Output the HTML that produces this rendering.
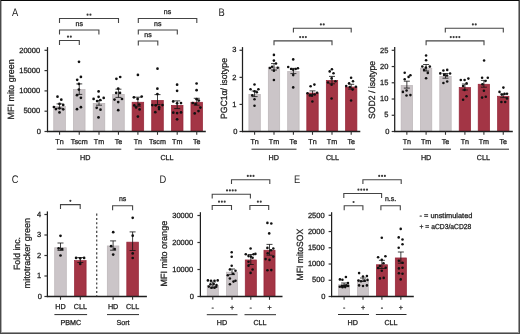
<!DOCTYPE html>
<html><head><meta charset="utf-8"><style>
html,body{margin:0;padding:0;background:#fff;}
body{width:520px;height:334px;overflow:hidden;position:relative;}
svg{position:absolute;left:0;top:0;display:block;will-change:transform;}
text{font-family:"Liberation Sans", sans-serif;text-rendering:geometricPrecision;}
</style></head><body>
<svg width="520" height="334" viewBox="0 0 520 334">
<rect x="0" y="0" width="520" height="334" fill="#fff"/>
<text transform="translate(15 15.9) scale(0.85 1)" x="0" y="0" font-size="11" text-anchor="middle" fill="#1a1a1a">A</text>
<line x1="47.5" y1="47.1" x2="47.5" y2="132.1" stroke="#1e1e1e" stroke-width="1.25" />
<line x1="44.5" y1="131.5" x2="47.5" y2="131.5" stroke="#333" stroke-width="1.2" />
<text x="41.0" y="133.7" font-size="7.5" text-anchor="end" fill="#1e1e1e" stroke="#1e1e1e" stroke-width="0.28" >0</text>
<line x1="44.5" y1="111.2" x2="47.5" y2="111.2" stroke="#333" stroke-width="1.2" />
<text x="40.1" y="113.4" font-size="7.5" text-anchor="end" fill="#1e1e1e" stroke="#1e1e1e" stroke-width="0.28" >5000</text>
<line x1="44.5" y1="90.9" x2="47.5" y2="90.9" stroke="#333" stroke-width="1.2" />
<text x="40.1" y="93.10000000000001" font-size="7.5" text-anchor="end" fill="#1e1e1e" stroke="#1e1e1e" stroke-width="0.28" >10000</text>
<line x1="44.5" y1="70.6" x2="47.5" y2="70.6" stroke="#333" stroke-width="1.2" />
<text x="40.1" y="72.8" font-size="7.5" text-anchor="end" fill="#1e1e1e" stroke="#1e1e1e" stroke-width="0.28" >15000</text>
<line x1="44.5" y1="50.3" x2="47.5" y2="50.3" stroke="#333" stroke-width="1.2" />
<text x="40.1" y="52.5" font-size="7.5" text-anchor="end" fill="#1e1e1e" stroke="#1e1e1e" stroke-width="0.28" >20000</text>
<rect x="53.75" y="106.45" width="11.60" height="25.05" fill="#cbc5c8" stroke="#bbb4b7" stroke-width="0.7"/>
<circle cx="57.5" cy="96.7" r="1.35" fill="#111"/>
<circle cx="61.3" cy="99.7" r="1.35" fill="#111"/>
<circle cx="59.5" cy="103.9" r="1.35" fill="#111"/>
<circle cx="63.2" cy="104.9" r="1.35" fill="#111"/>
<circle cx="53.9" cy="107" r="1.35" fill="#111"/>
<circle cx="55.9" cy="109.1" r="1.35" fill="#111"/>
<circle cx="59.5" cy="108.3" r="1.35" fill="#111"/>
<circle cx="63.2" cy="109.3" r="1.35" fill="#111"/>
<circle cx="59.5" cy="112.4" r="1.35" fill="#111"/>
<path d="M59.55 103.9V108.2M56.55 103.9H62.55M56.55 108.2H62.55" stroke="#111" stroke-width="0.8" fill="none"/>
<rect x="73.45" y="89.55" width="11.60" height="41.95" fill="#cbc5c8" stroke="#bbb4b7" stroke-width="0.7"/>
<circle cx="79" cy="61.8" r="1.35" fill="#111"/>
<circle cx="80.9" cy="76.9" r="1.35" fill="#111"/>
<circle cx="77.2" cy="79.8" r="1.35" fill="#111"/>
<circle cx="78.9" cy="83.9" r="1.35" fill="#111"/>
<circle cx="78.9" cy="89.6" r="1.35" fill="#111"/>
<circle cx="77" cy="95.2" r="1.35" fill="#111"/>
<circle cx="80.9" cy="97.8" r="1.35" fill="#111"/>
<circle cx="80.9" cy="107.2" r="1.35" fill="#111"/>
<circle cx="77" cy="109.2" r="1.35" fill="#111"/>
<path d="M79.25 83.9V94.4M76.25 83.9H82.25M76.25 94.4H82.25" stroke="#111" stroke-width="0.8" fill="none"/>
<rect x="93.20" y="103.35" width="11.60" height="28.15" fill="#cbc5c8" stroke="#bbb4b7" stroke-width="0.7"/>
<circle cx="98.6" cy="91.4" r="1.35" fill="#111"/>
<circle cx="98.6" cy="96.8" r="1.35" fill="#111"/>
<circle cx="103.7" cy="97.9" r="1.35" fill="#111"/>
<circle cx="93.6" cy="98.9" r="1.35" fill="#111"/>
<circle cx="100.3" cy="100" r="1.35" fill="#111"/>
<circle cx="97.1" cy="101.1" r="1.35" fill="#111"/>
<circle cx="96.7" cy="107.8" r="1.35" fill="#111"/>
<circle cx="100.5" cy="109.7" r="1.35" fill="#111"/>
<circle cx="98.5" cy="117.4" r="1.35" fill="#111"/>
<path d="M99.0 100.6V105.2M96.0 100.6H102.0M96.0 105.2H102.0" stroke="#111" stroke-width="0.8" fill="none"/>
<rect x="112.65" y="94.35" width="11.60" height="37.15" fill="#cbc5c8" stroke="#bbb4b7" stroke-width="0.7"/>
<circle cx="120.2" cy="77" r="1.35" fill="#111"/>
<circle cx="116.4" cy="78.8" r="1.35" fill="#111"/>
<circle cx="118.2" cy="88.6" r="1.35" fill="#111"/>
<circle cx="116.2" cy="92.9" r="1.35" fill="#111"/>
<circle cx="120" cy="92.9" r="1.35" fill="#111"/>
<circle cx="114.5" cy="99.6" r="1.35" fill="#111"/>
<circle cx="122" cy="99" r="1.35" fill="#111"/>
<circle cx="118.2" cy="102.1" r="1.35" fill="#111"/>
<circle cx="118.2" cy="110.2" r="1.35" fill="#111"/>
<path d="M118.45 89.2V97.4M115.45 89.2H121.45M115.45 97.4H121.45" stroke="#111" stroke-width="0.8" fill="none"/>
<rect x="132.10" y="102.25" width="11.60" height="29.25" fill="#a33545" stroke="#942437" stroke-width="0.7"/>
<circle cx="137.9" cy="74.9" r="1.35" fill="#111"/>
<circle cx="133.9" cy="97.3" r="1.35" fill="#111"/>
<circle cx="141.7" cy="96.6" r="1.35" fill="#111"/>
<circle cx="137.6" cy="99" r="1.35" fill="#111"/>
<circle cx="139.3" cy="104.5" r="1.35" fill="#111"/>
<circle cx="134.3" cy="105.4" r="1.35" fill="#111"/>
<circle cx="136.1" cy="107.4" r="1.35" fill="#111"/>
<circle cx="139.6" cy="109.4" r="1.35" fill="#111"/>
<circle cx="137.9" cy="116.6" r="1.35" fill="#111"/>
<path d="M137.9 97.2V106.2M134.9 97.2H140.9M134.9 106.2H140.9" stroke="#111" stroke-width="0.8" fill="none"/>
<rect x="151.70" y="100.35" width="11.60" height="31.15" fill="#a33545" stroke="#942437" stroke-width="0.7"/>
<circle cx="157.5" cy="68.7" r="1.35" fill="#111"/>
<circle cx="157.4" cy="88.7" r="1.35" fill="#111"/>
<circle cx="157.4" cy="94.1" r="1.35" fill="#111"/>
<circle cx="152.3" cy="105.1" r="1.35" fill="#111"/>
<circle cx="155.7" cy="105.3" r="1.35" fill="#111"/>
<circle cx="162.5" cy="105.1" r="1.35" fill="#111"/>
<circle cx="159.1" cy="107.2" r="1.35" fill="#111"/>
<circle cx="159.1" cy="109.1" r="1.35" fill="#111"/>
<circle cx="155.3" cy="112.2" r="1.35" fill="#111"/>
<path d="M157.5 94.6V104.6M154.5 94.6H160.5M154.5 104.6H160.5" stroke="#111" stroke-width="0.8" fill="none"/>
<rect x="171.40" y="105.35" width="11.60" height="26.15" fill="#a33545" stroke="#942437" stroke-width="0.7"/>
<circle cx="177.1" cy="84.7" r="1.35" fill="#111"/>
<circle cx="177.1" cy="90.8" r="1.35" fill="#111"/>
<circle cx="173.2" cy="101.4" r="1.35" fill="#111"/>
<circle cx="177.1" cy="103.3" r="1.35" fill="#111"/>
<circle cx="181" cy="103.1" r="1.35" fill="#111"/>
<circle cx="173.3" cy="112.7" r="1.35" fill="#111"/>
<circle cx="177.1" cy="113.1" r="1.35" fill="#111"/>
<circle cx="181" cy="112.4" r="1.35" fill="#111"/>
<circle cx="177.1" cy="119.3" r="1.35" fill="#111"/>
<path d="M177.2 100.9V108.6M174.2 100.9H180.2M174.2 108.6H180.2" stroke="#111" stroke-width="0.8" fill="none"/>
<rect x="190.95" y="102.25" width="11.60" height="29.25" fill="#a33545" stroke="#942437" stroke-width="0.7"/>
<circle cx="196.6" cy="83.5" r="1.35" fill="#111"/>
<circle cx="196.6" cy="90.2" r="1.35" fill="#111"/>
<circle cx="196.6" cy="99.2" r="1.35" fill="#111"/>
<circle cx="198.8" cy="100.6" r="1.35" fill="#111"/>
<circle cx="192.8" cy="103" r="1.35" fill="#111"/>
<circle cx="195.5" cy="104" r="1.35" fill="#111"/>
<circle cx="200.4" cy="107.6" r="1.35" fill="#111"/>
<circle cx="198.5" cy="111.1" r="1.35" fill="#111"/>
<circle cx="194.7" cy="113.4" r="1.35" fill="#111"/>
<path d="M196.75 98.3V105.2M193.75 98.3H199.75M193.75 105.2H199.75" stroke="#111" stroke-width="0.8" fill="none"/>
<line x1="46.9" y1="131.5" x2="205.8" y2="131.5" stroke="#1e1e1e" stroke-width="1.3" />
<line x1="59.55" y1="131.5" x2="59.55" y2="134.8" stroke="#333" stroke-width="1.1" />
<line x1="79.25" y1="131.5" x2="79.25" y2="134.8" stroke="#333" stroke-width="1.1" />
<line x1="99.0" y1="131.5" x2="99.0" y2="134.8" stroke="#333" stroke-width="1.1" />
<line x1="118.45" y1="131.5" x2="118.45" y2="134.8" stroke="#333" stroke-width="1.1" />
<line x1="137.9" y1="131.5" x2="137.9" y2="134.8" stroke="#333" stroke-width="1.1" />
<line x1="157.5" y1="131.5" x2="157.5" y2="134.8" stroke="#333" stroke-width="1.1" />
<line x1="177.2" y1="131.5" x2="177.2" y2="134.8" stroke="#333" stroke-width="1.1" />
<line x1="196.75" y1="131.5" x2="196.75" y2="134.8" stroke="#333" stroke-width="1.1" />
<text x="59.55" y="144.4" font-size="7.2" text-anchor="middle" fill="#1e1e1e" stroke="#1e1e1e" stroke-width="0.28" >Tn</text>
<text x="79.25" y="144.4" font-size="7.2" text-anchor="middle" fill="#1e1e1e" stroke="#1e1e1e" stroke-width="0.28" >Tscm</text>
<text x="99.0" y="144.4" font-size="7.2" text-anchor="middle" fill="#1e1e1e" stroke="#1e1e1e" stroke-width="0.28" >Tm</text>
<text x="118.45" y="144.4" font-size="7.2" text-anchor="middle" fill="#1e1e1e" stroke="#1e1e1e" stroke-width="0.28" >Te</text>
<text x="137.9" y="144.4" font-size="7.2" text-anchor="middle" fill="#1e1e1e" stroke="#1e1e1e" stroke-width="0.28" >Tn</text>
<text x="157.5" y="144.4" font-size="7.2" text-anchor="middle" fill="#1e1e1e" stroke="#1e1e1e" stroke-width="0.28" >Tscm</text>
<text x="177.2" y="144.4" font-size="7.2" text-anchor="middle" fill="#1e1e1e" stroke="#1e1e1e" stroke-width="0.28" >Tm</text>
<text x="196.75" y="144.4" font-size="7.2" text-anchor="middle" fill="#1e1e1e" stroke="#1e1e1e" stroke-width="0.28" >Te</text>
<line x1="56.8" y1="149.2" x2="121.3" y2="149.2" stroke="#2a2a2a" stroke-width="1.0" />
<line x1="134.7" y1="149.2" x2="199.9" y2="149.2" stroke="#2a2a2a" stroke-width="1.0" />
<text x="85.3" y="160.2" font-size="7.2" text-anchor="middle" fill="#1e1e1e" stroke="#1e1e1e" stroke-width="0.28" >HD</text>
<text x="167" y="160.2" font-size="7.2" text-anchor="middle" fill="#1e1e1e" stroke="#1e1e1e" stroke-width="0.28" >CLL</text>
<text x="14.1" y="89.4" font-size="9" text-anchor="middle" fill="#1e1e1e" stroke="#1e1e1e" stroke-width="0.28" textLength="60.0" lengthAdjust="spacingAndGlyphs" transform="rotate(-90 14.1 89.4)" >MFI mito green</text>
<path d="M59.5 22.9V18.5H118.5V22.9" fill="none" stroke="#444" stroke-width="1.1"/>
<circle cx="87.58" cy="14.7" r="1.08" fill="#3a3a3a"/>
<circle cx="90.42" cy="14.7" r="1.08" fill="#3a3a3a"/>
<path d="M59.5 34.4V30H98.9V34.4" fill="none" stroke="#444" stroke-width="1.1"/>
<text x="79.2" y="25.5" font-size="7" text-anchor="middle" fill="#1e1e1e" stroke="#1e1e1e" stroke-width="0.28" >ns</text>
<path d="M59.5 44.9V40.5H79.3V44.9" fill="none" stroke="#444" stroke-width="1.1"/>
<circle cx="67.98" cy="36.7" r="1.08" fill="#3a3a3a"/>
<circle cx="70.83" cy="36.7" r="1.08" fill="#3a3a3a"/>
<path d="M138.3 22.9V18.5H196.8V22.9" fill="none" stroke="#444" stroke-width="1.1"/>
<text x="167.55" y="14.0" font-size="7" text-anchor="middle" fill="#1e1e1e" stroke="#1e1e1e" stroke-width="0.28" >ns</text>
<path d="M138.3 34.4V30H177.3V34.4" fill="none" stroke="#444" stroke-width="1.1"/>
<text x="157.8" y="25.5" font-size="7" text-anchor="middle" fill="#1e1e1e" stroke="#1e1e1e" stroke-width="0.28" >ns</text>
<path d="M138.3 45.4V41H157.8V45.4" fill="none" stroke="#444" stroke-width="1.1"/>
<text x="148.05" y="36.5" font-size="7" text-anchor="middle" fill="#1e1e1e" stroke="#1e1e1e" stroke-width="0.28" >ns</text>
<text transform="translate(221.5 15.7) scale(0.85 1)" x="0" y="0" font-size="11" text-anchor="middle" fill="#1a1a1a">B</text>
<line x1="242.5" y1="47.1" x2="242.5" y2="132.1" stroke="#1e1e1e" stroke-width="1.25" />
<line x1="239.5" y1="131.5" x2="242.5" y2="131.5" stroke="#333" stroke-width="1.2" />
<text x="237.3" y="133.7" font-size="7.5" text-anchor="end" fill="#1e1e1e" stroke="#1e1e1e" stroke-width="0.28" >0</text>
<line x1="239.5" y1="104.43" x2="242.5" y2="104.43" stroke="#333" stroke-width="1.2" />
<text x="236.4" y="106.63000000000001" font-size="7.5" text-anchor="end" fill="#1e1e1e" stroke="#1e1e1e" stroke-width="0.28" >1</text>
<line x1="239.5" y1="77.36" x2="242.5" y2="77.36" stroke="#333" stroke-width="1.2" />
<text x="236.4" y="79.56" font-size="7.5" text-anchor="end" fill="#1e1e1e" stroke="#1e1e1e" stroke-width="0.28" >2</text>
<line x1="239.5" y1="50.28999999999999" x2="242.5" y2="50.28999999999999" stroke="#333" stroke-width="1.2" />
<text x="236.4" y="52.489999999999995" font-size="7.5" text-anchor="end" fill="#1e1e1e" stroke="#1e1e1e" stroke-width="0.28" >3</text>
<rect x="248.90" y="94.35" width="11.40" height="37.15" fill="#cbc5c8" stroke="#bbb4b7" stroke-width="0.7"/>
<circle cx="254.5" cy="84.5" r="1.28" fill="#111"/>
<circle cx="250.5" cy="89.3" r="1.28" fill="#111"/>
<circle cx="258.4" cy="89.3" r="1.28" fill="#111"/>
<circle cx="254.5" cy="91.2" r="1.28" fill="#111"/>
<circle cx="256.8" cy="92.2" r="1.28" fill="#111"/>
<circle cx="252.3" cy="95.2" r="1.28" fill="#111"/>
<circle cx="254.5" cy="99.2" r="1.28" fill="#111"/>
<circle cx="254.5" cy="105.7" r="1.28" fill="#111"/>
<path d="M254.6 91.0V96.6M251.6 91.0H257.6M251.6 96.6H257.6" stroke="#111" stroke-width="0.8" fill="none"/>
<rect x="268.30" y="67.15" width="11.40" height="64.35" fill="#cbc5c8" stroke="#bbb4b7" stroke-width="0.7"/>
<circle cx="273.9" cy="54.9" r="1.28" fill="#111"/>
<circle cx="273.9" cy="60.6" r="1.28" fill="#111"/>
<circle cx="276" cy="63.5" r="1.28" fill="#111"/>
<circle cx="272.1" cy="66.8" r="1.28" fill="#111"/>
<circle cx="269.9" cy="68" r="1.28" fill="#111"/>
<circle cx="277.7" cy="67.8" r="1.28" fill="#111"/>
<circle cx="273.9" cy="70.8" r="1.28" fill="#111"/>
<circle cx="273.9" cy="80" r="1.28" fill="#111"/>
<path d="M274 63.6V70.0M271.0 63.6H277.0M271.0 70.0H277.0" stroke="#111" stroke-width="0.8" fill="none"/>
<rect x="287.70" y="71.55" width="11.40" height="59.95" fill="#cbc5c8" stroke="#bbb4b7" stroke-width="0.7"/>
<circle cx="293.2" cy="59.4" r="1.28" fill="#111"/>
<circle cx="288.2" cy="67" r="1.28" fill="#111"/>
<circle cx="291.1" cy="69" r="1.28" fill="#111"/>
<circle cx="293.2" cy="69.8" r="1.28" fill="#111"/>
<circle cx="295.7" cy="69" r="1.28" fill="#111"/>
<circle cx="297.9" cy="68.2" r="1.28" fill="#111"/>
<circle cx="293.2" cy="75.1" r="1.28" fill="#111"/>
<circle cx="293.2" cy="87.4" r="1.28" fill="#111"/>
<path d="M293.4 68.4V73.6M290.4 68.4H296.4M290.4 73.6H296.4" stroke="#111" stroke-width="0.8" fill="none"/>
<rect x="306.80" y="93.05" width="11.40" height="38.45" fill="#a33545" stroke="#942437" stroke-width="0.7"/>
<circle cx="314.4" cy="84.6" r="1.28" fill="#111"/>
<circle cx="310.6" cy="86.3" r="1.28" fill="#111"/>
<circle cx="307.5" cy="93.2" r="1.28" fill="#111"/>
<circle cx="317.1" cy="92.8" r="1.28" fill="#111"/>
<circle cx="309.9" cy="95.4" r="1.28" fill="#111"/>
<circle cx="312" cy="95.8" r="1.28" fill="#111"/>
<circle cx="314.7" cy="94.5" r="1.28" fill="#111"/>
<circle cx="312.4" cy="101.5" r="1.28" fill="#111"/>
<path d="M312.5 90.9V94.5M309.5 90.9H315.5M309.5 94.5H315.5" stroke="#111" stroke-width="0.8" fill="none"/>
<rect x="326.30" y="80.45" width="11.40" height="51.05" fill="#a33545" stroke="#942437" stroke-width="0.7"/>
<circle cx="331.9" cy="69.2" r="1.28" fill="#111"/>
<circle cx="329.7" cy="71.4" r="1.28" fill="#111"/>
<circle cx="333.5" cy="73.3" r="1.28" fill="#111"/>
<circle cx="331.6" cy="78.4" r="1.28" fill="#111"/>
<circle cx="328" cy="82.5" r="1.28" fill="#111"/>
<circle cx="335.4" cy="81.3" r="1.28" fill="#111"/>
<circle cx="331.6" cy="84.8" r="1.28" fill="#111"/>
<circle cx="331.6" cy="98.5" r="1.28" fill="#111"/>
<path d="M332 76.4V83.8M329.0 76.4H335.0M329.0 83.8H335.0" stroke="#111" stroke-width="0.8" fill="none"/>
<rect x="345.50" y="87.05" width="11.40" height="44.45" fill="#a33545" stroke="#942437" stroke-width="0.7"/>
<circle cx="351.1" cy="77.7" r="1.28" fill="#111"/>
<circle cx="353" cy="81.2" r="1.28" fill="#111"/>
<circle cx="349.1" cy="83.3" r="1.28" fill="#111"/>
<circle cx="346.2" cy="86" r="1.28" fill="#111"/>
<circle cx="355.9" cy="86.7" r="1.28" fill="#111"/>
<circle cx="349.8" cy="87" r="1.28" fill="#111"/>
<circle cx="352.6" cy="89.6" r="1.28" fill="#111"/>
<circle cx="351.1" cy="100.5" r="1.28" fill="#111"/>
<path d="M351.2 84.3V89.1M348.2 84.3H354.2M348.2 89.1H354.2" stroke="#111" stroke-width="0.8" fill="none"/>
<line x1="241.9" y1="131.5" x2="360.3" y2="131.5" stroke="#1e1e1e" stroke-width="1.3" />
<line x1="254.6" y1="131.5" x2="254.6" y2="134.8" stroke="#333" stroke-width="1.1" />
<line x1="274" y1="131.5" x2="274" y2="134.8" stroke="#333" stroke-width="1.1" />
<line x1="293.4" y1="131.5" x2="293.4" y2="134.8" stroke="#333" stroke-width="1.1" />
<line x1="312.5" y1="131.5" x2="312.5" y2="134.8" stroke="#333" stroke-width="1.1" />
<line x1="332" y1="131.5" x2="332" y2="134.8" stroke="#333" stroke-width="1.1" />
<line x1="351.2" y1="131.5" x2="351.2" y2="134.8" stroke="#333" stroke-width="1.1" />
<text x="254.6" y="144.4" font-size="7.2" text-anchor="middle" fill="#1e1e1e" stroke="#1e1e1e" stroke-width="0.28" >Tn</text>
<text x="274" y="144.4" font-size="7.2" text-anchor="middle" fill="#1e1e1e" stroke="#1e1e1e" stroke-width="0.28" >Tm</text>
<text x="293.4" y="144.4" font-size="7.2" text-anchor="middle" fill="#1e1e1e" stroke="#1e1e1e" stroke-width="0.28" >Te</text>
<text x="312.5" y="144.4" font-size="7.2" text-anchor="middle" fill="#1e1e1e" stroke="#1e1e1e" stroke-width="0.28" >Tn</text>
<text x="332" y="144.4" font-size="7.2" text-anchor="middle" fill="#1e1e1e" stroke="#1e1e1e" stroke-width="0.28" >Tm</text>
<text x="351.2" y="144.4" font-size="7.2" text-anchor="middle" fill="#1e1e1e" stroke="#1e1e1e" stroke-width="0.28" >Te</text>
<line x1="251.5" y1="149.2" x2="296.5" y2="149.2" stroke="#2a2a2a" stroke-width="1.0" />
<line x1="309.5" y1="149.2" x2="355" y2="149.2" stroke="#2a2a2a" stroke-width="1.0" />
<text x="273.8" y="160.3" font-size="7.2" text-anchor="middle" fill="#1e1e1e" stroke="#1e1e1e" stroke-width="0.28" >HD</text>
<text x="332.5" y="160.3" font-size="7.2" text-anchor="middle" fill="#1e1e1e" stroke="#1e1e1e" stroke-width="0.28" >CLL</text>
<text x="227.1" y="88.55" font-size="9" text-anchor="middle" fill="#1e1e1e" stroke="#1e1e1e" stroke-width="0.28" textLength="61.1" lengthAdjust="spacingAndGlyphs" transform="rotate(-90 227.1 88.55)" >PGC1&#945;/ isotype</text>
<path d="M274 45.3V40.9H332V45.3" fill="none" stroke="#444" stroke-width="1.1"/>
<circle cx="300.15" cy="37.1" r="1.08" fill="#3a3a3a"/>
<circle cx="303.00" cy="37.1" r="1.08" fill="#3a3a3a"/>
<circle cx="305.85" cy="37.1" r="1.08" fill="#3a3a3a"/>
<path d="M293.4 32.6V28.2H351.2V32.6" fill="none" stroke="#444" stroke-width="1.1"/>
<circle cx="320.87" cy="24.4" r="1.08" fill="#3a3a3a"/>
<circle cx="323.72" cy="24.4" r="1.08" fill="#3a3a3a"/>
<line x1="394.7" y1="47.1" x2="394.7" y2="132.1" stroke="#1e1e1e" stroke-width="1.25" />
<line x1="391.7" y1="131.5" x2="394.7" y2="131.5" stroke="#333" stroke-width="1.2" />
<text x="389.29999999999995" y="133.7" font-size="7.5" text-anchor="end" fill="#1e1e1e" stroke="#1e1e1e" stroke-width="0.28" >0</text>
<line x1="391.7" y1="115.26" x2="394.7" y2="115.26" stroke="#333" stroke-width="1.2" />
<text x="388.4" y="117.46000000000001" font-size="7.5" text-anchor="end" fill="#1e1e1e" stroke="#1e1e1e" stroke-width="0.28" >5</text>
<line x1="391.7" y1="99.02000000000001" x2="394.7" y2="99.02000000000001" stroke="#333" stroke-width="1.2" />
<text x="388.4" y="101.22000000000001" font-size="7.5" text-anchor="end" fill="#1e1e1e" stroke="#1e1e1e" stroke-width="0.28" >10</text>
<line x1="391.7" y1="82.78" x2="394.7" y2="82.78" stroke="#333" stroke-width="1.2" />
<text x="388.4" y="84.98" font-size="7.5" text-anchor="end" fill="#1e1e1e" stroke="#1e1e1e" stroke-width="0.28" >15</text>
<line x1="391.7" y1="66.54" x2="394.7" y2="66.54" stroke="#333" stroke-width="1.2" />
<text x="388.4" y="68.74000000000001" font-size="7.5" text-anchor="end" fill="#1e1e1e" stroke="#1e1e1e" stroke-width="0.28" >20</text>
<line x1="391.7" y1="50.30000000000001" x2="394.7" y2="50.30000000000001" stroke="#333" stroke-width="1.2" />
<text x="388.4" y="52.500000000000014" font-size="7.5" text-anchor="end" fill="#1e1e1e" stroke="#1e1e1e" stroke-width="0.28" >25</text>
<rect x="401.15" y="85.45" width="11.40" height="46.05" fill="#cbc5c8" stroke="#bbb4b7" stroke-width="0.7"/>
<circle cx="404.7" cy="72.8" r="1.28" fill="#111"/>
<circle cx="410.4" cy="75.3" r="1.28" fill="#111"/>
<circle cx="408.6" cy="76.9" r="1.28" fill="#111"/>
<circle cx="404.7" cy="79.3" r="1.28" fill="#111"/>
<circle cx="406.6" cy="90.5" r="1.28" fill="#111"/>
<circle cx="402.9" cy="91.9" r="1.28" fill="#111"/>
<circle cx="406.5" cy="95.5" r="1.28" fill="#111"/>
<circle cx="410.4" cy="95.1" r="1.28" fill="#111"/>
<path d="M406.85 81.2V88.1M403.85 81.2H409.85M403.85 88.1H409.85" stroke="#111" stroke-width="0.8" fill="none"/>
<rect x="420.40" y="68.15" width="11.40" height="63.35" fill="#cbc5c8" stroke="#bbb4b7" stroke-width="0.7"/>
<circle cx="426.1" cy="55.5" r="1.28" fill="#111"/>
<circle cx="426.1" cy="60.2" r="1.28" fill="#111"/>
<circle cx="422.3" cy="66.5" r="1.28" fill="#111"/>
<circle cx="429.8" cy="66.6" r="1.28" fill="#111"/>
<circle cx="425.9" cy="67.6" r="1.28" fill="#111"/>
<circle cx="424.1" cy="69.9" r="1.28" fill="#111"/>
<circle cx="427.8" cy="72.9" r="1.28" fill="#111"/>
<circle cx="426.1" cy="78.3" r="1.28" fill="#111"/>
<path d="M426.1 64.5V71.0M423.1 64.5H429.1M423.1 71.0H429.1" stroke="#111" stroke-width="0.8" fill="none"/>
<rect x="439.80" y="76.35" width="11.40" height="55.15" fill="#cbc5c8" stroke="#bbb4b7" stroke-width="0.7"/>
<circle cx="443.4" cy="70.5" r="1.28" fill="#111"/>
<circle cx="447.2" cy="69.9" r="1.28" fill="#111"/>
<circle cx="440.3" cy="73.4" r="1.28" fill="#111"/>
<circle cx="450.1" cy="73.5" r="1.28" fill="#111"/>
<circle cx="444.1" cy="74.9" r="1.28" fill="#111"/>
<circle cx="447" cy="75.5" r="1.28" fill="#111"/>
<circle cx="443.4" cy="83" r="1.28" fill="#111"/>
<circle cx="447.2" cy="81.5" r="1.28" fill="#111"/>
<path d="M445.5 73.5V78.2M442.5 73.5H448.5M442.5 78.2H448.5" stroke="#111" stroke-width="0.8" fill="none"/>
<rect x="459.20" y="87.55" width="11.40" height="43.95" fill="#a33545" stroke="#942437" stroke-width="0.7"/>
<circle cx="460.8" cy="80" r="1.28" fill="#111"/>
<circle cx="464.6" cy="80" r="1.28" fill="#111"/>
<circle cx="468.4" cy="78.6" r="1.28" fill="#111"/>
<circle cx="466.6" cy="83.4" r="1.28" fill="#111"/>
<circle cx="463.1" cy="86" r="1.28" fill="#111"/>
<circle cx="464.5" cy="90" r="1.28" fill="#111"/>
<circle cx="466.5" cy="96.2" r="1.28" fill="#111"/>
<circle cx="463.1" cy="99.7" r="1.28" fill="#111"/>
<path d="M464.9 84.0V90.0M461.9 84.0H467.9M461.9 90.0H467.9" stroke="#111" stroke-width="0.8" fill="none"/>
<rect x="478.20" y="84.25" width="11.40" height="47.25" fill="#a33545" stroke="#942437" stroke-width="0.7"/>
<circle cx="484.1" cy="60.5" r="1.28" fill="#111"/>
<circle cx="482.1" cy="77.7" r="1.28" fill="#111"/>
<circle cx="487.8" cy="77.7" r="1.28" fill="#111"/>
<circle cx="485.5" cy="81" r="1.28" fill="#111"/>
<circle cx="482.4" cy="84.2" r="1.28" fill="#111"/>
<circle cx="483.9" cy="90.8" r="1.28" fill="#111"/>
<circle cx="485.8" cy="96.8" r="1.28" fill="#111"/>
<circle cx="482.1" cy="97.6" r="1.28" fill="#111"/>
<path d="M483.9 80.4V87.2M480.9 80.4H486.9M480.9 87.2H486.9" stroke="#111" stroke-width="0.8" fill="none"/>
<rect x="497.55" y="96.25" width="11.40" height="35.25" fill="#a33545" stroke="#942437" stroke-width="0.7"/>
<circle cx="503.4" cy="87.6" r="1.28" fill="#111"/>
<circle cx="499.5" cy="91.9" r="1.28" fill="#111"/>
<circle cx="501.8" cy="94.6" r="1.28" fill="#111"/>
<circle cx="504.5" cy="93.9" r="1.28" fill="#111"/>
<circle cx="507" cy="93.7" r="1.28" fill="#111"/>
<circle cx="507" cy="98.4" r="1.28" fill="#111"/>
<circle cx="501.4" cy="102" r="1.28" fill="#111"/>
<circle cx="505.2" cy="102" r="1.28" fill="#111"/>
<path d="M503.25 94.0V97.6M500.25 94.0H506.25M500.25 97.6H506.25" stroke="#111" stroke-width="0.8" fill="none"/>
<line x1="394.09999999999997" y1="131.5" x2="512.8" y2="131.5" stroke="#1e1e1e" stroke-width="1.3" />
<line x1="406.85" y1="131.5" x2="406.85" y2="134.8" stroke="#333" stroke-width="1.1" />
<line x1="426.1" y1="131.5" x2="426.1" y2="134.8" stroke="#333" stroke-width="1.1" />
<line x1="445.5" y1="131.5" x2="445.5" y2="134.8" stroke="#333" stroke-width="1.1" />
<line x1="464.9" y1="131.5" x2="464.9" y2="134.8" stroke="#333" stroke-width="1.1" />
<line x1="483.9" y1="131.5" x2="483.9" y2="134.8" stroke="#333" stroke-width="1.1" />
<line x1="503.25" y1="131.5" x2="503.25" y2="134.8" stroke="#333" stroke-width="1.1" />
<text x="406.85" y="144.4" font-size="7.2" text-anchor="middle" fill="#1e1e1e" stroke="#1e1e1e" stroke-width="0.28" >Tn</text>
<text x="426.1" y="144.4" font-size="7.2" text-anchor="middle" fill="#1e1e1e" stroke="#1e1e1e" stroke-width="0.28" >Tm</text>
<text x="445.5" y="144.4" font-size="7.2" text-anchor="middle" fill="#1e1e1e" stroke="#1e1e1e" stroke-width="0.28" >Te</text>
<text x="464.9" y="144.4" font-size="7.2" text-anchor="middle" fill="#1e1e1e" stroke="#1e1e1e" stroke-width="0.28" >Tn</text>
<text x="483.9" y="144.4" font-size="7.2" text-anchor="middle" fill="#1e1e1e" stroke="#1e1e1e" stroke-width="0.28" >Tm</text>
<text x="503.25" y="144.4" font-size="7.2" text-anchor="middle" fill="#1e1e1e" stroke="#1e1e1e" stroke-width="0.28" >Te</text>
<line x1="403" y1="149.2" x2="451" y2="149.2" stroke="#2a2a2a" stroke-width="1.0" />
<line x1="460" y1="149.2" x2="509" y2="149.2" stroke="#2a2a2a" stroke-width="1.0" />
<text x="426.1" y="160.3" font-size="7.2" text-anchor="middle" fill="#1e1e1e" stroke="#1e1e1e" stroke-width="0.28" >HD</text>
<text x="483.4" y="160.3" font-size="7.2" text-anchor="middle" fill="#1e1e1e" stroke="#1e1e1e" stroke-width="0.28" >CLL</text>
<text x="375" y="89.9" font-size="9" text-anchor="middle" fill="#1e1e1e" stroke="#1e1e1e" stroke-width="0.28" textLength="58.2" lengthAdjust="spacingAndGlyphs" transform="rotate(-90 375 89.9)" >SOD2 / isotype</text>
<path d="M426.1 45.3V40.9H484V45.3" fill="none" stroke="#444" stroke-width="1.1"/>
<circle cx="450.78" cy="37.1" r="1.08" fill="#3a3a3a"/>
<circle cx="453.63" cy="37.1" r="1.08" fill="#3a3a3a"/>
<circle cx="456.48" cy="37.1" r="1.08" fill="#3a3a3a"/>
<circle cx="459.33" cy="37.1" r="1.08" fill="#3a3a3a"/>
<path d="M445.3 32.6V28.2H503.3V32.6" fill="none" stroke="#444" stroke-width="1.1"/>
<circle cx="472.88" cy="24.4" r="1.08" fill="#3a3a3a"/>
<circle cx="475.73" cy="24.4" r="1.08" fill="#3a3a3a"/>
<text transform="translate(15.2 183) scale(0.85 1)" x="0" y="0" font-size="11" text-anchor="middle" fill="#1a1a1a">C</text>
<line x1="47.4" y1="211.4" x2="47.4" y2="297.1" stroke="#1e1e1e" stroke-width="1.25" />
<line x1="44.4" y1="296.5" x2="47.4" y2="296.5" stroke="#333" stroke-width="1.2" />
<text x="42.0" y="298.7" font-size="7.5" text-anchor="end" fill="#1e1e1e" stroke="#1e1e1e" stroke-width="0.28" >0</text>
<line x1="44.4" y1="276.0" x2="47.4" y2="276.0" stroke="#333" stroke-width="1.2" />
<text x="41.1" y="278.2" font-size="7.5" text-anchor="end" fill="#1e1e1e" stroke="#1e1e1e" stroke-width="0.28" >1</text>
<line x1="44.4" y1="255.5" x2="47.4" y2="255.5" stroke="#333" stroke-width="1.2" />
<text x="41.1" y="257.7" font-size="7.5" text-anchor="end" fill="#1e1e1e" stroke="#1e1e1e" stroke-width="0.28" >2</text>
<line x1="44.4" y1="235.0" x2="47.4" y2="235.0" stroke="#333" stroke-width="1.2" />
<text x="41.1" y="237.2" font-size="7.5" text-anchor="end" fill="#1e1e1e" stroke="#1e1e1e" stroke-width="0.28" >3</text>
<line x1="44.4" y1="214.5" x2="47.4" y2="214.5" stroke="#333" stroke-width="1.2" />
<text x="41.1" y="216.7" font-size="7.5" text-anchor="end" fill="#1e1e1e" stroke="#1e1e1e" stroke-width="0.28" >4</text>
<rect x="54.70" y="247.75" width="11.60" height="48.75" fill="#cbc5c8" stroke="#bbb4b7" stroke-width="0.7"/>
<circle cx="60.5" cy="235.8" r="1.35" fill="#111"/>
<circle cx="58.6" cy="248.4" r="1.35" fill="#111"/>
<circle cx="62.2" cy="249" r="1.35" fill="#111"/>
<circle cx="60.5" cy="255.5" r="1.35" fill="#111"/>
<path d="M60.5 243.0V250.4M57.5 243.0H63.5M57.5 250.4H63.5" stroke="#111" stroke-width="0.8" fill="none"/>
<rect x="74.50" y="260.65" width="11.60" height="35.85" fill="#a33545" stroke="#942437" stroke-width="0.7"/>
<circle cx="76.1" cy="257.9" r="1.35" fill="#111"/>
<circle cx="80.2" cy="258.3" r="1.35" fill="#111"/>
<circle cx="84.1" cy="257.9" r="1.35" fill="#111"/>
<circle cx="80.2" cy="263.9" r="1.35" fill="#111"/>
<path d="M80.3 257.5V262.5M77.3 257.5H83.3M77.3 262.5H83.3" stroke="#111" stroke-width="0.8" fill="none"/>
<rect x="107.30" y="245.95" width="11.60" height="50.55" fill="#cbc5c8" stroke="#bbb4b7" stroke-width="0.7"/>
<circle cx="113.2" cy="232.2" r="1.35" fill="#111"/>
<circle cx="111.1" cy="246.2" r="1.35" fill="#111"/>
<circle cx="114.7" cy="249" r="1.35" fill="#111"/>
<circle cx="113.2" cy="254.6" r="1.35" fill="#111"/>
<path d="M113.1 240.9V250.2M110.1 240.9H116.1M110.1 250.2H116.1" stroke="#111" stroke-width="0.8" fill="none"/>
<rect x="126.80" y="242.15" width="11.60" height="54.35" fill="#a33545" stroke="#942437" stroke-width="0.7"/>
<circle cx="132.7" cy="217.8" r="1.35" fill="#111"/>
<circle cx="132.7" cy="235.7" r="1.35" fill="#111"/>
<circle cx="132.7" cy="253.4" r="1.35" fill="#111"/>
<circle cx="132.7" cy="258" r="1.35" fill="#111"/>
<path d="M132.6 231.9V250.5M129.6 231.9H135.6M129.6 250.5H135.6" stroke="#111" stroke-width="0.8" fill="none"/>
<line x1="46.8" y1="296.5" x2="146.9" y2="296.5" stroke="#1e1e1e" stroke-width="1.3" />
<line x1="60.5" y1="296.5" x2="60.5" y2="299.8" stroke="#333" stroke-width="1.1" />
<line x1="80.3" y1="296.5" x2="80.3" y2="299.8" stroke="#333" stroke-width="1.1" />
<line x1="113.1" y1="296.5" x2="113.1" y2="299.8" stroke="#333" stroke-width="1.1" />
<line x1="132.6" y1="296.5" x2="132.6" y2="299.8" stroke="#333" stroke-width="1.1" />
<line x1="96.75" y1="213.6" x2="96.75" y2="296.5" stroke="#2a2a2a" stroke-width="1.1" stroke-dasharray="2.1 2.2"/>
<text x="60.5" y="309.3" font-size="7.2" text-anchor="middle" fill="#1e1e1e" stroke="#1e1e1e" stroke-width="0.28" >HD</text>
<text x="80.3" y="309.3" font-size="7.2" text-anchor="middle" fill="#1e1e1e" stroke="#1e1e1e" stroke-width="0.28" >CLL</text>
<text x="113.1" y="309.3" font-size="7.2" text-anchor="middle" fill="#1e1e1e" stroke="#1e1e1e" stroke-width="0.28" >HD</text>
<text x="132.6" y="309.3" font-size="7.2" text-anchor="middle" fill="#1e1e1e" stroke="#1e1e1e" stroke-width="0.28" >CLL</text>
<line x1="54.4" y1="314.6" x2="87.1" y2="314.6" stroke="#2a2a2a" stroke-width="1.0" />
<line x1="107" y1="314.6" x2="139" y2="314.6" stroke="#2a2a2a" stroke-width="1.0" />
<text x="70.8" y="325.3" font-size="7.2" text-anchor="middle" fill="#1e1e1e" stroke="#1e1e1e" stroke-width="0.28" >PBMC</text>
<text x="123" y="325.3" font-size="7.2" text-anchor="middle" fill="#1e1e1e" stroke="#1e1e1e" stroke-width="0.28" >Sort</text>
<text x="19.8" y="253.5" font-size="9" text-anchor="middle" fill="#1e1e1e" stroke="#1e1e1e" stroke-width="0.28" textLength="33" lengthAdjust="spacingAndGlyphs" transform="rotate(-90 19.8 253.5)" >Fold inc.</text>
<text x="29.8" y="253.2" font-size="9" text-anchor="middle" fill="#1e1e1e" stroke="#1e1e1e" stroke-width="0.28" textLength="70.4" lengthAdjust="spacingAndGlyphs" transform="rotate(-90 29.8 253.2)" >mitotracker green</text>
<path d="M60.5 209.0V204.6H80.2V209.0" fill="none" stroke="#444" stroke-width="1.1"/>
<circle cx="70.35" cy="200.79999999999998" r="1.08" fill="#3a3a3a"/>
<path d="M112.6 210.20000000000002V205.8H132.6V210.20000000000002" fill="none" stroke="#444" stroke-width="1.1"/>
<text x="122.6" y="201.3" font-size="7" text-anchor="middle" fill="#1e1e1e" stroke="#1e1e1e" stroke-width="0.28" >ns</text>
<text transform="translate(162.75 182.9) scale(0.85 1)" x="0" y="0" font-size="11" text-anchor="middle" fill="#1a1a1a">D</text>
<line x1="200.4" y1="212.2" x2="200.4" y2="297.1" stroke="#1e1e1e" stroke-width="1.25" />
<line x1="197.4" y1="296.5" x2="200.4" y2="296.5" stroke="#333" stroke-width="1.2" />
<text x="194.0" y="298.7" font-size="7.5" text-anchor="end" fill="#1e1e1e" stroke="#1e1e1e" stroke-width="0.28" >0</text>
<line x1="197.4" y1="269.5" x2="200.4" y2="269.5" stroke="#333" stroke-width="1.2" />
<text x="193.1" y="271.7" font-size="7.5" text-anchor="end" fill="#1e1e1e" stroke="#1e1e1e" stroke-width="0.28" >10000</text>
<line x1="197.4" y1="242.5" x2="200.4" y2="242.5" stroke="#333" stroke-width="1.2" />
<text x="193.1" y="244.7" font-size="7.5" text-anchor="end" fill="#1e1e1e" stroke="#1e1e1e" stroke-width="0.28" >20000</text>
<line x1="197.4" y1="215.5" x2="200.4" y2="215.5" stroke="#333" stroke-width="1.2" />
<text x="193.1" y="217.7" font-size="7.5" text-anchor="end" fill="#1e1e1e" stroke="#1e1e1e" stroke-width="0.28" >30000</text>
<rect x="207.25" y="285.55" width="11.10" height="10.95" fill="#cbc5c8" stroke="#bbb4b7" stroke-width="0.7"/>
<circle cx="207.9" cy="280.4" r="1.28" fill="#111"/>
<circle cx="211" cy="280.7" r="1.28" fill="#111"/>
<circle cx="214.5" cy="280.7" r="1.28" fill="#111"/>
<circle cx="217.7" cy="280.4" r="1.28" fill="#111"/>
<circle cx="210.5" cy="284.3" r="1.28" fill="#111"/>
<circle cx="213.7" cy="284" r="1.28" fill="#111"/>
<circle cx="216.5" cy="285" r="1.28" fill="#111"/>
<circle cx="208.8" cy="286.6" r="1.28" fill="#111"/>
<circle cx="216.3" cy="286.8" r="1.28" fill="#111"/>
<circle cx="211.5" cy="287.8" r="1.28" fill="#111"/>
<circle cx="214.5" cy="287.6" r="1.28" fill="#111"/>
<path d="M212.8 282.0V288.0M209.8 282.0H215.8M209.8 288.0H215.8" stroke="#111" stroke-width="0.8" fill="none"/>
<rect x="226.45" y="272.15" width="11.10" height="24.35" fill="#cbc5c8" stroke="#bbb4b7" stroke-width="0.7"/>
<circle cx="231.7" cy="252.2" r="1.28" fill="#111"/>
<circle cx="231.7" cy="256.8" r="1.28" fill="#111"/>
<circle cx="231.7" cy="265.7" r="1.28" fill="#111"/>
<circle cx="229.9" cy="269.5" r="1.28" fill="#111"/>
<circle cx="235.5" cy="270.8" r="1.28" fill="#111"/>
<circle cx="233.2" cy="273.8" r="1.28" fill="#111"/>
<circle cx="227.8" cy="275.3" r="1.28" fill="#111"/>
<circle cx="229.9" cy="278.5" r="1.28" fill="#111"/>
<circle cx="233.5" cy="281.6" r="1.28" fill="#111"/>
<circle cx="235.5" cy="280.7" r="1.28" fill="#111"/>
<circle cx="229.9" cy="284.3" r="1.28" fill="#111"/>
<path d="M232.0 269.0V274.6M229.0 269.0H235.0M229.0 274.6H235.0" stroke="#111" stroke-width="0.8" fill="none"/>
<rect x="245.25" y="259.95" width="11.10" height="36.55" fill="#a33545" stroke="#942437" stroke-width="0.7"/>
<circle cx="250.6" cy="248.5" r="1.28" fill="#111"/>
<circle cx="245.8" cy="254.3" r="1.28" fill="#111"/>
<circle cx="253.5" cy="254.3" r="1.28" fill="#111"/>
<circle cx="255.4" cy="253.9" r="1.28" fill="#111"/>
<circle cx="248.5" cy="256.1" r="1.28" fill="#111"/>
<circle cx="250.8" cy="256.6" r="1.28" fill="#111"/>
<circle cx="252.6" cy="257.8" r="1.28" fill="#111"/>
<circle cx="248.5" cy="261.7" r="1.28" fill="#111"/>
<circle cx="248.5" cy="265.7" r="1.28" fill="#111"/>
<circle cx="252.6" cy="269.5" r="1.28" fill="#111"/>
<circle cx="250.6" cy="272.9" r="1.28" fill="#111"/>
<path d="M250.8 254.5V264.5M247.8 254.5H253.8M247.8 264.5H253.8" stroke="#111" stroke-width="0.8" fill="none"/>
<rect x="263.95" y="250.25" width="11.10" height="46.25" fill="#a33545" stroke="#942437" stroke-width="0.7"/>
<circle cx="267.4" cy="222.9" r="1.28" fill="#111"/>
<circle cx="271.3" cy="223.5" r="1.28" fill="#111"/>
<circle cx="269.2" cy="233.4" r="1.28" fill="#111"/>
<circle cx="267.4" cy="247.9" r="1.28" fill="#111"/>
<circle cx="273.3" cy="248.5" r="1.28" fill="#111"/>
<circle cx="271" cy="250.3" r="1.28" fill="#111"/>
<circle cx="267.7" cy="253.3" r="1.28" fill="#111"/>
<circle cx="273.3" cy="256.6" r="1.28" fill="#111"/>
<circle cx="265.6" cy="259.1" r="1.28" fill="#111"/>
<circle cx="269.5" cy="259.9" r="1.28" fill="#111"/>
<circle cx="267.4" cy="270.2" r="1.28" fill="#111"/>
<circle cx="271.3" cy="270.1" r="1.28" fill="#111"/>
<path d="M269.5 244.4V255.2M266.5 244.4H272.5M266.5 255.2H272.5" stroke="#111" stroke-width="0.8" fill="none"/>
<line x1="199.8" y1="296.5" x2="282.5" y2="296.5" stroke="#1e1e1e" stroke-width="1.3" />
<line x1="212.8" y1="296.5" x2="212.8" y2="299.8" stroke="#333" stroke-width="1.1" />
<line x1="232.0" y1="296.5" x2="232.0" y2="299.8" stroke="#333" stroke-width="1.1" />
<line x1="250.8" y1="296.5" x2="250.8" y2="299.8" stroke="#333" stroke-width="1.1" />
<line x1="269.5" y1="296.5" x2="269.5" y2="299.8" stroke="#333" stroke-width="1.1" />
<text x="212.8" y="310" font-size="7.2" text-anchor="middle" fill="#1e1e1e" stroke="#1e1e1e" stroke-width="0.28" >-</text>
<text x="232.0" y="310" font-size="7.2" text-anchor="middle" fill="#1e1e1e" stroke="#1e1e1e" stroke-width="0.28" >+</text>
<text x="250.8" y="310" font-size="7.2" text-anchor="middle" fill="#1e1e1e" stroke="#1e1e1e" stroke-width="0.28" >-</text>
<text x="269.5" y="310" font-size="7.2" text-anchor="middle" fill="#1e1e1e" stroke="#1e1e1e" stroke-width="0.28" >+</text>
<line x1="206.8" y1="314.7" x2="237.5" y2="314.7" stroke="#2a2a2a" stroke-width="1.0" />
<line x1="244.5" y1="314.7" x2="276" y2="314.7" stroke="#2a2a2a" stroke-width="1.0" />
<text x="222" y="325.4" font-size="7.2" text-anchor="middle" fill="#1e1e1e" stroke="#1e1e1e" stroke-width="0.28" >HD</text>
<text x="260" y="325.4" font-size="7.2" text-anchor="middle" fill="#1e1e1e" stroke="#1e1e1e" stroke-width="0.28" >CLL</text>
<text x="167.5" y="253.70000000000002" font-size="9" text-anchor="middle" fill="#1e1e1e" stroke="#1e1e1e" stroke-width="0.28" textLength="65.8" lengthAdjust="spacingAndGlyphs" transform="rotate(-90 167.5 253.70000000000002)" >MFI mito orange</text>
<path d="M231.5 184.1V179.7H269.8V184.1" fill="none" stroke="#444" stroke-width="1.1"/>
<circle cx="247.80" cy="175.89999999999998" r="1.08" fill="#3a3a3a"/>
<circle cx="250.65" cy="175.89999999999998" r="1.08" fill="#3a3a3a"/>
<circle cx="253.50" cy="175.89999999999998" r="1.08" fill="#3a3a3a"/>
<path d="M212.2 198.6V194.2H250.4V198.6" fill="none" stroke="#444" stroke-width="1.1"/>
<circle cx="227.03" cy="190.39999999999998" r="1.08" fill="#3a3a3a"/>
<circle cx="229.88" cy="190.39999999999998" r="1.08" fill="#3a3a3a"/>
<circle cx="232.72" cy="190.39999999999998" r="1.08" fill="#3a3a3a"/>
<circle cx="235.58" cy="190.39999999999998" r="1.08" fill="#3a3a3a"/>
<path d="M212.2 209.9V205.5H231.5V209.9" fill="none" stroke="#444" stroke-width="1.1"/>
<circle cx="219.00" cy="201.7" r="1.08" fill="#3a3a3a"/>
<circle cx="221.85" cy="201.7" r="1.08" fill="#3a3a3a"/>
<circle cx="224.70" cy="201.7" r="1.08" fill="#3a3a3a"/>
<path d="M249.9 209.9V205.5H268.7V209.9" fill="none" stroke="#444" stroke-width="1.1"/>
<circle cx="257.88" cy="201.7" r="1.08" fill="#3a3a3a"/>
<circle cx="260.73" cy="201.7" r="1.08" fill="#3a3a3a"/>
<text transform="translate(297 183) scale(0.85 1)" x="0" y="0" font-size="11" text-anchor="middle" fill="#1a1a1a">E</text>
<line x1="331.6" y1="212.2" x2="331.6" y2="297.1" stroke="#1e1e1e" stroke-width="1.25" />
<line x1="328.6" y1="296.5" x2="331.6" y2="296.5" stroke="#333" stroke-width="1.2" />
<text x="325.5" y="298.7" font-size="7.5" text-anchor="end" fill="#1e1e1e" stroke="#1e1e1e" stroke-width="0.28" >0</text>
<line x1="328.6" y1="280.26" x2="331.6" y2="280.26" stroke="#333" stroke-width="1.2" />
<text x="324.6" y="282.46" font-size="7.5" text-anchor="end" fill="#1e1e1e" stroke="#1e1e1e" stroke-width="0.28" >500</text>
<line x1="328.6" y1="264.02" x2="331.6" y2="264.02" stroke="#333" stroke-width="1.2" />
<text x="324.6" y="266.21999999999997" font-size="7.5" text-anchor="end" fill="#1e1e1e" stroke="#1e1e1e" stroke-width="0.28" >1000</text>
<line x1="328.6" y1="247.78" x2="331.6" y2="247.78" stroke="#333" stroke-width="1.2" />
<text x="324.6" y="249.98" font-size="7.5" text-anchor="end" fill="#1e1e1e" stroke="#1e1e1e" stroke-width="0.28" >1500</text>
<line x1="328.6" y1="231.54000000000002" x2="331.6" y2="231.54000000000002" stroke="#333" stroke-width="1.2" />
<text x="324.6" y="233.74" font-size="7.5" text-anchor="end" fill="#1e1e1e" stroke="#1e1e1e" stroke-width="0.28" >2000</text>
<line x1="328.6" y1="215.3" x2="331.6" y2="215.3" stroke="#333" stroke-width="1.2" />
<text x="324.6" y="217.5" font-size="7.5" text-anchor="end" fill="#1e1e1e" stroke="#1e1e1e" stroke-width="0.28" >2500</text>
<rect x="338.55" y="284.85" width="11.10" height="11.65" fill="#cbc5c8" stroke="#bbb4b7" stroke-width="0.7"/>
<circle cx="345.9" cy="277" r="1.28" fill="#111"/>
<circle cx="339.9" cy="279.4" r="1.28" fill="#111"/>
<circle cx="342.4" cy="279.7" r="1.28" fill="#111"/>
<circle cx="348" cy="283" r="1.28" fill="#111"/>
<circle cx="339.8" cy="286.7" r="1.28" fill="#111"/>
<circle cx="341.9" cy="285.9" r="1.28" fill="#111"/>
<circle cx="344.1" cy="285.7" r="1.28" fill="#111"/>
<circle cx="346.2" cy="285.4" r="1.28" fill="#111"/>
<circle cx="348.1" cy="285.9" r="1.28" fill="#111"/>
<circle cx="342.5" cy="287.3" r="1.28" fill="#111"/>
<circle cx="345.2" cy="287.1" r="1.28" fill="#111"/>
<path d="M344.1 283.0V286.2M341.1 283.0H347.1M341.1 286.2H347.1" stroke="#111" stroke-width="0.8" fill="none"/>
<rect x="357.45" y="280.05" width="11.10" height="16.45" fill="#cbc5c8" stroke="#bbb4b7" stroke-width="0.7"/>
<circle cx="359.1" cy="273.1" r="1.28" fill="#111"/>
<circle cx="363" cy="276.5" r="1.28" fill="#111"/>
<circle cx="366.9" cy="276.1" r="1.28" fill="#111"/>
<circle cx="358.5" cy="280.6" r="1.28" fill="#111"/>
<circle cx="361" cy="281.2" r="1.28" fill="#111"/>
<circle cx="364.6" cy="280.6" r="1.28" fill="#111"/>
<circle cx="367.5" cy="279.9" r="1.28" fill="#111"/>
<circle cx="359.1" cy="285.4" r="1.28" fill="#111"/>
<circle cx="363" cy="286" r="1.28" fill="#111"/>
<circle cx="366.9" cy="285.4" r="1.28" fill="#111"/>
<path d="M363.0 278.0V281.5M360.0 278.0H366.0M360.0 281.5H366.0" stroke="#111" stroke-width="0.8" fill="none"/>
<rect x="376.35" y="264.75" width="11.10" height="31.75" fill="#a33545" stroke="#942437" stroke-width="0.7"/>
<circle cx="381.8" cy="237.7" r="1.28" fill="#111"/>
<circle cx="378.1" cy="257.2" r="1.28" fill="#111"/>
<circle cx="385.4" cy="256.2" r="1.28" fill="#111"/>
<circle cx="381.8" cy="259.8" r="1.28" fill="#111"/>
<circle cx="383.5" cy="263.3" r="1.28" fill="#111"/>
<circle cx="379.9" cy="266" r="1.28" fill="#111"/>
<circle cx="378.1" cy="268" r="1.28" fill="#111"/>
<circle cx="385.7" cy="267.8" r="1.28" fill="#111"/>
<circle cx="381.8" cy="270.7" r="1.28" fill="#111"/>
<circle cx="379.9" cy="278.4" r="1.28" fill="#111"/>
<circle cx="383.7" cy="277.9" r="1.28" fill="#111"/>
<path d="M381.9 260.3V268.5M378.9 260.3H384.9M378.9 268.5H384.9" stroke="#111" stroke-width="0.8" fill="none"/>
<rect x="395.30" y="257.95" width="11.10" height="38.55" fill="#a33545" stroke="#942437" stroke-width="0.7"/>
<circle cx="400.7" cy="228.9" r="1.28" fill="#111"/>
<circle cx="398.7" cy="237.4" r="1.28" fill="#111"/>
<circle cx="402.5" cy="239.5" r="1.28" fill="#111"/>
<circle cx="402.5" cy="244.2" r="1.28" fill="#111"/>
<circle cx="398.7" cy="247.7" r="1.28" fill="#111"/>
<circle cx="398.9" cy="260.8" r="1.28" fill="#111"/>
<circle cx="402.5" cy="262.7" r="1.28" fill="#111"/>
<circle cx="398.9" cy="268.4" r="1.28" fill="#111"/>
<circle cx="402.5" cy="267.8" r="1.28" fill="#111"/>
<circle cx="398.9" cy="273.2" r="1.28" fill="#111"/>
<circle cx="402.5" cy="273.8" r="1.28" fill="#111"/>
<circle cx="400.7" cy="279.4" r="1.28" fill="#111"/>
<path d="M400.85 252.0V263.2M397.85 252.0H403.85M397.85 263.2H403.85" stroke="#111" stroke-width="0.8" fill="none"/>
<line x1="331.0" y1="296.5" x2="413.8" y2="296.5" stroke="#1e1e1e" stroke-width="1.3" />
<line x1="344.1" y1="296.5" x2="344.1" y2="299.8" stroke="#333" stroke-width="1.1" />
<line x1="363.0" y1="296.5" x2="363.0" y2="299.8" stroke="#333" stroke-width="1.1" />
<line x1="381.9" y1="296.5" x2="381.9" y2="299.8" stroke="#333" stroke-width="1.1" />
<line x1="400.85" y1="296.5" x2="400.85" y2="299.8" stroke="#333" stroke-width="1.1" />
<text x="344.1" y="310" font-size="7.2" text-anchor="middle" fill="#1e1e1e" stroke="#1e1e1e" stroke-width="0.28" >-</text>
<text x="363.0" y="310" font-size="7.2" text-anchor="middle" fill="#1e1e1e" stroke="#1e1e1e" stroke-width="0.28" >+</text>
<text x="381.9" y="310" font-size="7.2" text-anchor="middle" fill="#1e1e1e" stroke="#1e1e1e" stroke-width="0.28" >-</text>
<text x="400.85" y="310" font-size="7.2" text-anchor="middle" fill="#1e1e1e" stroke="#1e1e1e" stroke-width="0.28" >+</text>
<line x1="338" y1="314.5" x2="369" y2="314.5" stroke="#2a2a2a" stroke-width="1.0" />
<line x1="375.9" y1="314.5" x2="406.5" y2="314.5" stroke="#2a2a2a" stroke-width="1.0" />
<text x="352.8" y="325" font-size="7.2" text-anchor="middle" fill="#1e1e1e" stroke="#1e1e1e" stroke-width="0.28" >HD</text>
<text x="391" y="325" font-size="7.2" text-anchor="middle" fill="#1e1e1e" stroke="#1e1e1e" stroke-width="0.28" >CLL</text>
<text x="303.4" y="254.6" font-size="9" text-anchor="middle" fill="#1e1e1e" stroke="#1e1e1e" stroke-width="0.28" textLength="51.6" lengthAdjust="spacingAndGlyphs" transform="rotate(-90 303.4 254.6)" >MFI mitoSOX</text>
<path d="M362.9 184.1V179.7H401.2V184.1" fill="none" stroke="#444" stroke-width="1.1"/>
<circle cx="379.20" cy="175.89999999999998" r="1.08" fill="#3a3a3a"/>
<circle cx="382.05" cy="175.89999999999998" r="1.08" fill="#3a3a3a"/>
<circle cx="384.90" cy="175.89999999999998" r="1.08" fill="#3a3a3a"/>
<path d="M343.8 197.9V193.5H381.6V197.9" fill="none" stroke="#444" stroke-width="1.1"/>
<circle cx="358.43" cy="189.7" r="1.08" fill="#3a3a3a"/>
<circle cx="361.28" cy="189.7" r="1.08" fill="#3a3a3a"/>
<circle cx="364.13" cy="189.7" r="1.08" fill="#3a3a3a"/>
<circle cx="366.98" cy="189.7" r="1.08" fill="#3a3a3a"/>
<path d="M344.2 210.20000000000002V205.8H362.9V210.20000000000002" fill="none" stroke="#444" stroke-width="1.1"/>
<circle cx="353.55" cy="202.0" r="1.08" fill="#3a3a3a"/>
<path d="M380.9 210.20000000000002V205.8H400.3V210.20000000000002" fill="none" stroke="#444" stroke-width="1.1"/>
<text x="390.6" y="201.2" font-size="7" text-anchor="middle" fill="#1e1e1e" stroke="#1e1e1e" stroke-width="0.28" >n.s.</text>
<text x="419.5" y="218.1" font-size="7.2" text-anchor="start" fill="#1e1e1e" stroke="#1e1e1e" stroke-width="0.28" textLength="52.9" lengthAdjust="spacingAndGlyphs" >-  = unstimulated</text>
<text x="419.5" y="229.3" font-size="7.2" text-anchor="start" fill="#1e1e1e" stroke="#1e1e1e" stroke-width="0.28" textLength="51.8" lengthAdjust="spacingAndGlyphs" >+ = aCD3/aCD28</text>
<rect x="0" y="0" width="520" height="1" fill="#0a0a0a"/>
<rect x="0" y="0" width="1" height="334" fill="#4a4a4a"/>
<rect x="1" y="1" width="1" height="332" fill="#b0b0b0"/>
<rect x="519" y="0" width="1" height="334" fill="#4a4a4a"/>
<rect x="518" y="1" width="1" height="332" fill="#999"/>
<rect x="0" y="333" width="520" height="1" fill="#4a4a4a"/>
<rect x="1" y="332" width="518" height="1" fill="#999"/>
</svg>
</body></html>
